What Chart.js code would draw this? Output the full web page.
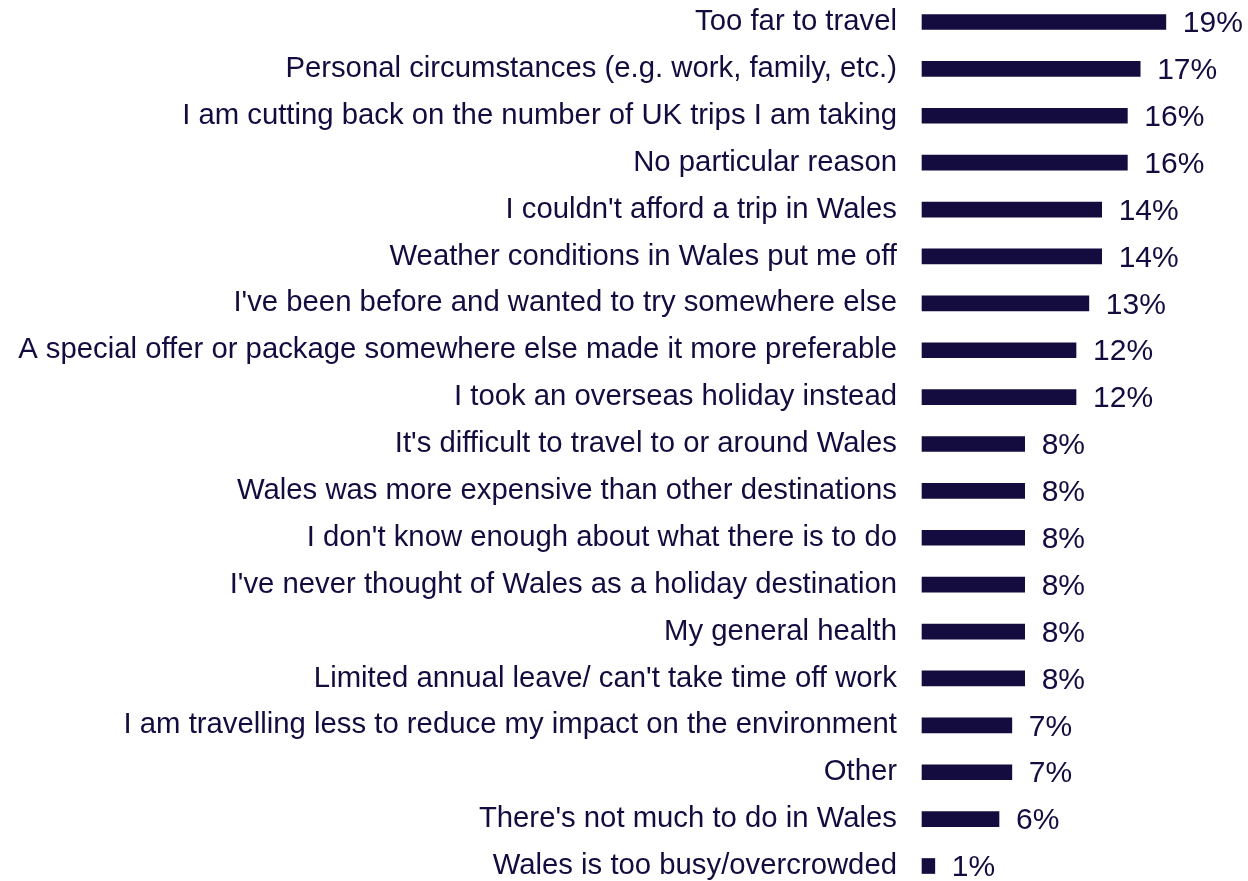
<!DOCTYPE html>
<html>
<head>
<meta charset="utf-8">
<script src="https://cdn.jsdelivr.net/npm/chart.js@4.4.0/dist/chart.umd.min.js"></script>
<style>
  html, body { margin: 0; padding: 0; background: #ffffff; }
  #wrap { width: 1248px; height: 881px; position: relative; }
</style>
</head>
<body>
<div id="wrap"><canvas id="chart"></canvas></div>
<script>
// Reasons for not visiting Wales (% of respondents)
const reasons = [
  "Too far to travel",
  "Personal circumstances (e.g. work, family, etc.)",
  "I am cutting back on the number of UK trips I am taking",
  "No particular reason",
  "I couldn't afford a trip in Wales",
  "Weather conditions in Wales put me off",
  "I've been before and wanted to try somewhere else",
  "A special offer or package somewhere else made it more preferable",
  "I took an overseas holiday instead",
  "It's difficult to travel to or around Wales",
  "Wales was more expensive than other destinations",
  "I don't know enough about what there is to do",
  "I've never thought of Wales as a holiday destination",
  "My general health",
  "Limited annual leave/ can't take time off work",
  "I am travelling less to reduce my impact on the environment",
  "Other",
  "There's not much to do in Wales",
  "Wales is too busy/overcrowded"
];
const shares = [19, 17, 16, 16, 14, 14, 13, 12, 12, 8, 8, 8, 8, 8, 8, 7, 7, 6, 1];

const NAVY = '#140c3f';
const FONT = "'Liberation Sans', Arial, sans-serif";

// Writes each value just past the end of its bar
const valueLabels = {
  id: 'valueLabels',
  afterDatasetsDraw(chart) {
    const ctx = chart.ctx;
    const meta = chart.getDatasetMeta(0);
    ctx.save();
    ctx.fillStyle = NAVY;
    ctx.font = '30px ' + FONT;
    ctx.textAlign = 'left';
    ctx.textBaseline = 'middle';
    meta.data.forEach((bar, i) => {
      ctx.fillText(shares[i] + '%', bar.x + 17, bar.y + 2);
    });
    ctx.restore();
  }
};

new Chart(document.getElementById('chart'), {
  type: 'bar',
  data: {
    labels: reasons,
    datasets: [{
      data: shares,
      backgroundColor: NAVY,
      borderWidth: 0,
      barThickness: 15,
      clip: false
    }]
  },
  options: {
    indexAxis: 'y',
    responsive: true,
    maintainAspectRatio: false,
    animation: false,
    layout: { padding: { top: 22, bottom: 15, left: 0, right: 0 } },
    plugins: { legend: { display: false }, tooltip: { enabled: false } },
    scales: {
      x: {
        display: false,
        min: 0,
        max: 25.4
      },
      y: {
        offset: false,
        grid: { display: false, drawTicks: false },
        border: { display: false },
        ticks: {
          color: NAVY,
          padding: 25,
          autoSkip: false,
          font: { family: FONT, size: 29.3, lineHeight: 1 }
        },
        afterFit(scale) {
          scale.width = 922;
          scale.paddingTop = 0;
          scale.paddingBottom = 0;
        }
      }
    }
  },
  plugins: [valueLabels]
});
</script>
</body>
</html>
